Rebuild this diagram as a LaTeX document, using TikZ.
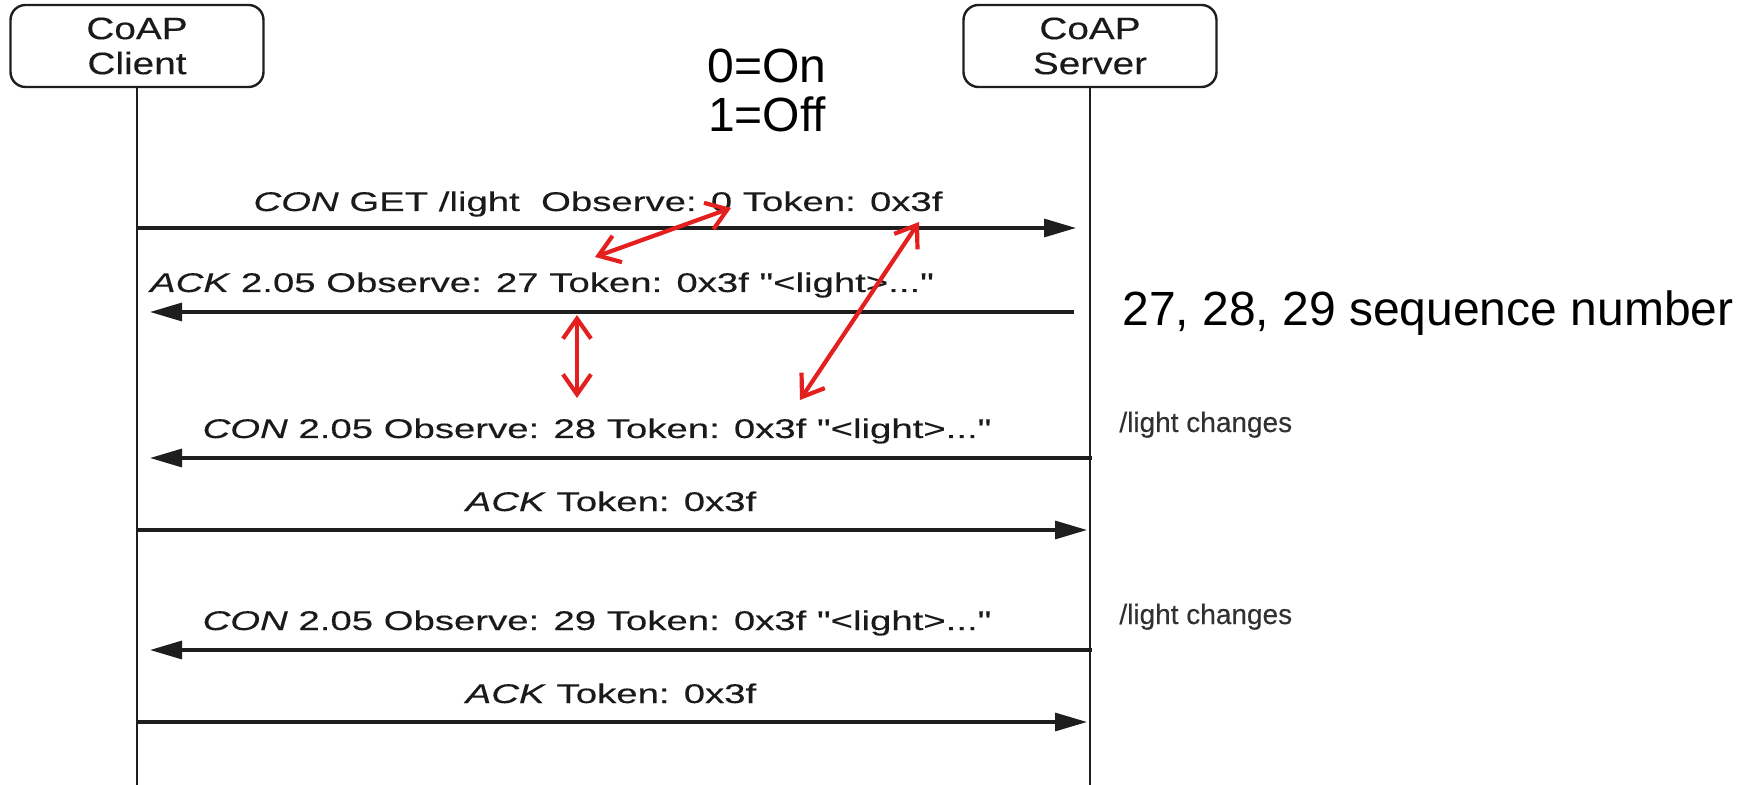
\documentclass[tikz,border=0pt]{standalone}
\usepackage{fontspec}
\setmainfont{Liberation Sans}
\newfontfamily\msgfont[FakeStretch=1.42, FakeBold=0.3]{Liberation Sans}
\newfontfamily\boxfont[FakeStretch=1.25, FakeBold=0.3]{Liberation Sans}
\newfontfamily\notefont[FakeStretch=1.0, FakeBold=0.3]{Liberation Sans}
\usetikzlibrary{arrows.meta, calc}
\definecolor{lineGrey}{HTML}{1E1E1E}
\definecolor{textGrey}{HTML}{1A1A1A}
\definecolor{annoRed}{HTML}{E3201E}
\tikzset{
  % sequence chart: boxes, lifelines and message arrows
  party/.style    = {draw=lineGrey, line width=1.2pt, rounded corners=7.5pt,
                     minimum width=126.5pt, minimum height=41pt, align=center,
                     text=textGrey, font=\boxfont\fontsize{15.5}{17.5}\selectfont},
  lifeline/.style = {lineGrey, line width=1pt},
  msg/.style      = {-{Triangle[length=16pt, width=9pt]}, lineGrey, line width=1.6pt},
  msglbl/.style   = {anchor=base, inner sep=0pt, text=textGrey,
                     font=\msgfont\fontsize{13.5}{16}\selectfont},
  changelbl/.style= {anchor=base west, inner sep=0pt, text=textGrey!90,
                     font=\notefont\fontsize{14}{16}\selectfont},
  bignote/.style  = {anchor=base, inner sep=0pt, font=\fontsize{24}{26}\selectfont},
  seqarrow/.style = {{Straight Barb[length=10pt, width=14pt]}-{Straight Barb[length=10pt, width=14pt]},
                     annoRed, line width=2.1pt},
}
\begin{document}
\begin{tikzpicture}[x=0.5pt, y=-0.5pt]
  \useasboundingbox (0,0) rectangle (1760,785);
  % the two end points and their lifelines
  \node[party] (client) at (137,46) {CoAP\\Client};
  \node[party] (server) at (1090,46) {CoAP\\Server};
  \coordinate (bottom) at (0,785);
  \draw[lifeline] (client.south) -- (client.south |- bottom);
  \draw[lifeline] (server.south) -- (server.south |- bottom);
  % ends of the message rows on both lifelines
  \foreach \n/\y in {1/228, 2/312, 3/458, 4/530, 5/650, 6/722} {
    \coordinate (c\n) at (137,\y);
    \coordinate (s\n) at (1090,\y);
  }
  % messages
  \draw[msg] (c1) -- ($(s1)+(-14,0)$);
  \draw[msg] ($(s2)+(-16,0)$) -- ($(c2)+(13,0)$);
  \draw[msg] ($(s3)+(2,0)$) -- ($(c3)+(13,0)$);
  \draw[msg] (c4) -- ($(s4)+(-3,0)$);
  \draw[msg] ($(s5)+(2,0)$) -- ($(c5)+(13,0)$);
  \draw[msg] (c6) -- ($(s6)+(-3,0)$);
  \node[msglbl] (m1) at (598,211) {\textit{CON} GET /light\ \ Observe: 0 Token: 0x3f};
  \node[msglbl] (m2) at (542,292) {\textit{ACK} 2.05 Observe: 27 Token: 0x3f "<light>..."};
  \node[msglbl] (m3) at (597,438) {\textit{CON} 2.05 Observe: 28 Token: 0x3f "<light>..."};
  \node[msglbl] (m4) at (611,511) {\textit{ACK} Token: 0x3f};
  \node[msglbl] (m5) at (597,630) {\textit{CON} 2.05 Observe: 29 Token: 0x3f "<light>..."};
  \node[msglbl] (m6) at (611,703) {\textit{ACK} Token: 0x3f};
  % notes on the right
  \node[changelbl] (chg1) at (1119,432) {/light changes};
  \node[changelbl] (chg2) at (1119,624) {/light changes};
  \node[bignote, anchor=base west] (seqnote) at (1122,326) {27, 28, 29 sequence number};
  \node[bignote] (on) at (767,83) {0=On};
  \node[bignote] (off) at (767,132) {1=Off};
  % red links between observe numbers and tokens
  \coordinate (o0) at (731,208);
  \coordinate (o27) at (595,257);
  \coordinate (o27b) at (577,315);
  \coordinate (o28) at (577,398);
  \coordinate (tokA) at (919,222);
  \coordinate (tokB) at (800,400);
  \draw[seqarrow] (o27) -- (o0);
  \draw[seqarrow] (o27b) -- (o28);
  \draw[seqarrow] (tokB) -- (tokA);
\end{tikzpicture}
\end{document}
